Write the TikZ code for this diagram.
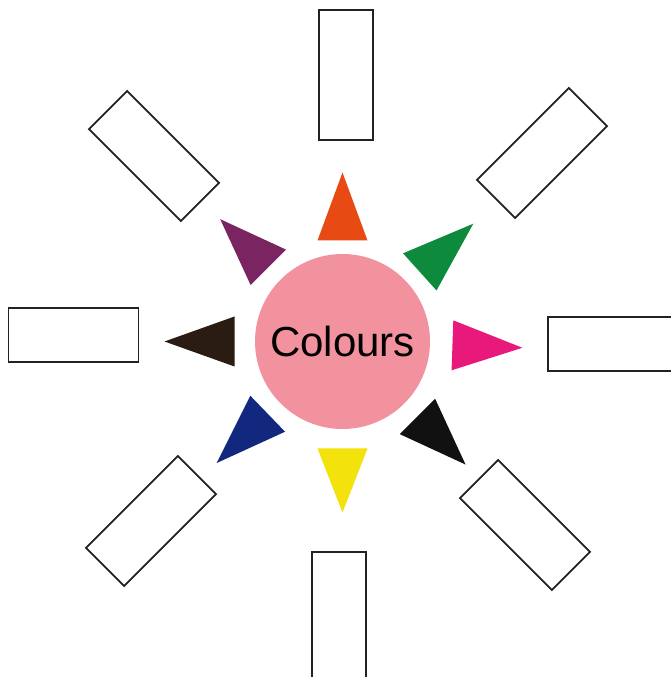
\documentclass[tikz,border=0pt]{standalone}
\usepackage{fontspec}
\setmainfont{Liberation Sans}

\definecolor{cwpink}{HTML}{F2929F}
\definecolor{cwline}{HTML}{222222}
\definecolor{cworange}{HTML}{E84A14}
\definecolor{cwgreen}{HTML}{0E8A3C}
\definecolor{cwmagenta}{HTML}{E8197A}
\definecolor{cwblack}{HTML}{111111}
\definecolor{cwyellow}{HTML}{F4E20C}
\definecolor{cwblue}{HTML}{12287E}
\definecolor{cwbrown}{HTML}{2A1C12}
\definecolor{cwpurple}{HTML}{7A2462}

\begin{document}
\begin{tikzpicture}[x=1pt, y=1pt,
    hub/.style={circle, fill=cwpink, minimum size=175pt, inner sep=0pt,
                font=\fontsize{42}{50}\selectfont},
    slot/.style={draw=cwline, line width=1.8pt, fill=white,
                 minimum width=130pt, minimum height=54pt, inner sep=0pt}]

\useasboundingbox[fill=white] (0,0) rectangle (671,677);
\clip (0,0) rectangle (671,677);

\coordinate (o) at (342.5,335.5);
\node[hub] (hub) at (o) {Colours};

% --- triangles round the hub --  angle/base r/apex r/colour ----------------
\foreach \a/\rb/\ra/\col in {%
    90/101/169/cworange,
    42/104/176/cwgreen,
    -2/110/180/cwmagenta,
    -45/106/174/cwblack,
    -90/107/171/cwyellow,
    224/104/175/cwblue,
    180/108/178/cwbrown,
    135/105/173/cwpurple}
{
  \fill[\col, shift={(o)}, rotate=\a] (\rb,-25) -- (\ra,0) -- (\rb,25) -- cycle;
}

% --- empty boxes --  name/x/y/rotation -------------------------------------
% the south and east boxes run off the page edge, as in the printed sheet
\foreach \n/\x/\y/\a in {%
    n/346/602/90,
    ne/542/524/45,
    e/613/333/0,
    se/525/152/-45,
    s/339/60/90,
    sw/151/156/45,
    w/73.5/342/0,
    nw/154/521/-45}
{
  \node[slot, rotate=\a] (s\n) at (\x,\y) {};
}
\end{tikzpicture}
\end{document}
